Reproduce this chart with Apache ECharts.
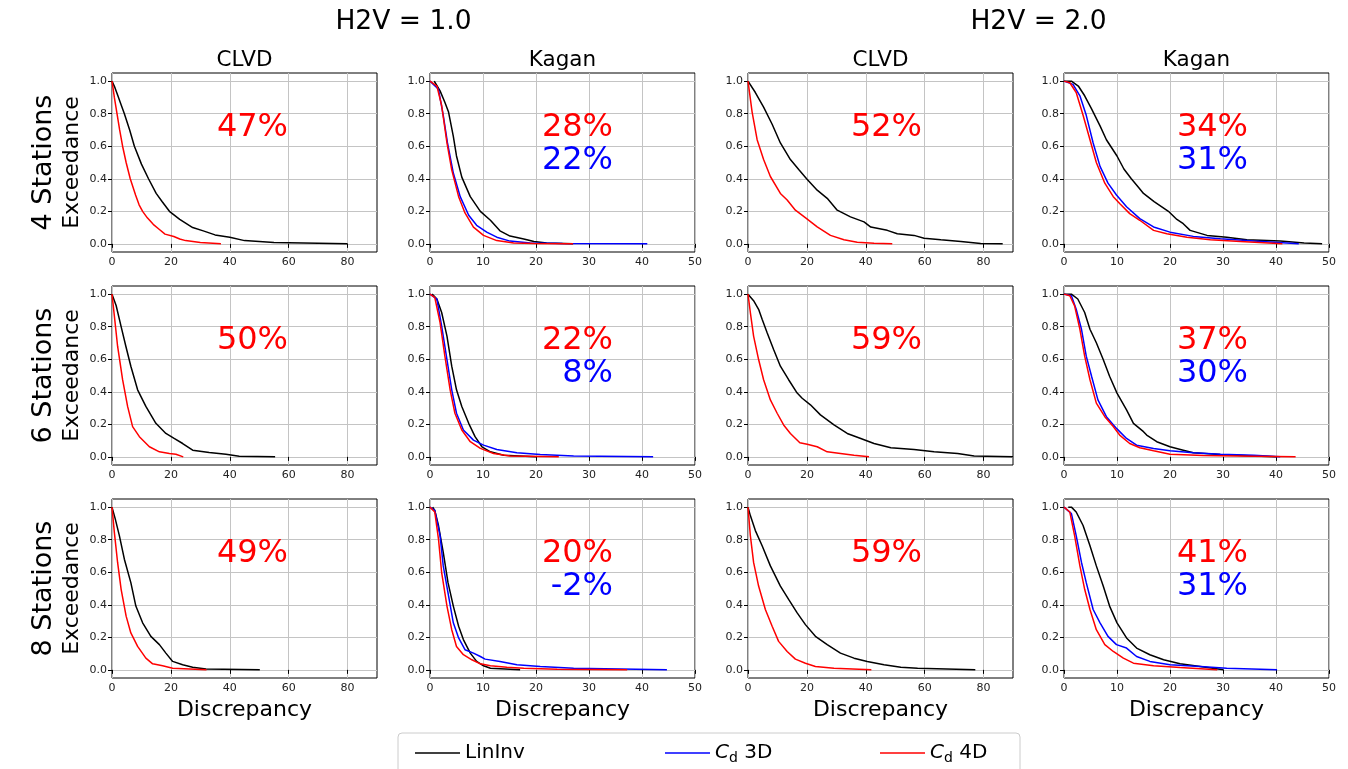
<!DOCTYPE html>
<html>
<head>
<meta charset="utf-8">
<title>Exceedance vs Discrepancy</title>
<script src="https://cdn.jsdelivr.net/npm/echarts@6/dist/echarts.min.js"></script>
<style>
  html, body { margin: 0; padding: 0; background: #fff; }
  #chart { width: 1348px; height: 769px; }
</style>
</head>
<body>
<div id="chart"></div>
<script>
const h2vTitles = ['H2V = 1.0', 'H2V = 2.0']
const colTitles = ['CLVD', 'Kagan', 'CLVD', 'Kagan']
const rowNames = ['4 Stations', '6 Stations', '8 Stations']
const clvdTicks = [0, 20, 40, 60, 80]
const kaganTicks = [0, 10, 20, 30, 40, 50]
const yTicks = [0, 0.2, 0.4, 0.6, 0.8, 1.0]

// percent annotations, panel order row by row
const redPct = ['47%', '28%', '52%', '34%', '50%', '22%', '59%', '37%', '49%', '20%', '59%', '41%']
const bluePct = [null, '22%', null, '31%', null, '8%', null, '30%', null, '-2%', null, '31%']

// exceedance curves [discrepancy, exceedance]
// 4 stations
const lin_4_h1_clvd = [[0,1],[1,0.96],[2,0.91],[3,0.86],[4.2,0.8],[6,0.7],[7.6,0.6],[10,0.49],[12.4,0.4],[15,0.31],[17,0.26],[19.5,0.2],[23,0.15],[27.4,0.1],[31,0.08],[35,0.055],[40,0.04],[45,0.02],[50,0.014],[55,0.008],[65,0.005],[80,0]]
const d4_4_h1_clvd = [[0,1],[0.8,0.9],[1.7,0.8],[2.6,0.7],[3.6,0.6],[4.8,0.5],[6.2,0.4],[8,0.3],[9.2,0.24],[10.4,0.2],[12,0.16],[14,0.12],[16,0.09],[18,0.06],[21,0.045],[23,0.03],[25,0.02],[30,0.008],[37,0]]

const lin_4_h1_kag = [[0.8,1],[1.9,0.94],[2.8,0.87],[3.5,0.81],[4.4,0.66],[5,0.54],[6,0.41],[7.6,0.29],[9.5,0.2],[11.4,0.145],[13.2,0.08],[15.1,0.048],[17.7,0.03],[19.6,0.015],[22,0.005],[27,0]]
const d3_4_h1_kag = [[0,1],[1.6,0.95],[2.5,0.79],[3.3,0.62],[4.4,0.435],[5.7,0.29],[7.3,0.176],[8.8,0.114],[10.7,0.072],[12.6,0.041],[15.1,0.017],[18.9,0.006],[25,0.002],[41,0]]
const d4_4_h1_kag = [[0,1],[1.3,0.97],[2.2,0.85],[3.2,0.62],[4.1,0.455],[5.4,0.29],[6.6,0.19],[8.2,0.103],[10.1,0.052],[12.6,0.02],[15.8,0.006],[19.6,0.002],[27,0]]

const lin_4_h2_clvd = [[0,1],[2.5,0.93],[5.3,0.84],[8.2,0.735],[11,0.62],[14.4,0.518],[17.3,0.455],[19.9,0.4],[23.5,0.33],[26.9,0.28],[30.3,0.207],[34.8,0.166],[39.4,0.135],[41.7,0.103],[47.3,0.083],[50.7,0.062],[56.4,0.052],[59.8,0.035],[65.5,0.025],[72.3,0.015],[79,0.002],[86.5,0]]
const d4_4_h2_clvd = [[0,1],[1.4,0.81],[3.1,0.64],[5.3,0.518],[7.6,0.414],[11,0.31],[13.3,0.27],[16.1,0.207],[19.9,0.155],[23.5,0.104],[28,0.052],[32.6,0.025],[37.1,0.01],[42.8,0.004],[49,0]]

const lin_4_h2_kag = [[0,1],[1.4,1],[2.7,0.97],[3.9,0.91],[5.2,0.83],[6.8,0.725],[8,0.64],[10,0.54],[11.3,0.46],[12.7,0.4],[14,0.35],[15,0.31],[17,0.26],[19.7,0.2],[21.3,0.15],[22.5,0.124],[23.8,0.083],[27,0.052],[30.7,0.041],[34.5,0.025],[40.8,0.017],[45.3,0.006],[48.7,0]]
const d3_4_h2_kag = [[0,1],[1.7,0.98],[3,0.91],[4.2,0.79],[5.5,0.62],[6.8,0.476],[8.3,0.373],[9.9,0.3],[11.8,0.228],[14.3,0.155],[16.9,0.104],[20,0.072],[24.4,0.046],[29.5,0.031],[35.8,0.017],[44.3,0]]
const d4_4_h2_kag = [[0,1],[1.1,0.99],[2.3,0.93],[3.6,0.79],[4.9,0.64],[6.1,0.5],[7.7,0.373],[9.3,0.29],[10.5,0.248],[12.4,0.186],[14.3,0.145],[16.9,0.083],[19.4,0.062],[23.2,0.041],[27.6,0.025],[33.3,0.015],[41.2,0]]

// 6 stations
const lin_6_h1_clvd = [[0,1],[1.4,0.93],[3.1,0.8],[4.7,0.68],[6.4,0.557],[8.7,0.412],[11.5,0.31],[14.9,0.206],[18.3,0.144],[21.1,0.113],[24,0.082],[27.4,0.041],[33,0.027],[38.7,0.016],[43.2,0.004],[55.4,0]]
const d4_6_h1_clvd = [[0,1],[0.8,0.866],[1.9,0.68],[3.6,0.474],[5.3,0.31],[7,0.186],[9.3,0.124],[12.7,0.062],[16.1,0.031],[19.5,0.021],[21.7,0.016],[24.2,0]]

const lin_6_h1_kag = [[0.4,1],[1.3,0.97],[2.2,0.887],[3.2,0.742],[4.1,0.557],[5,0.412],[6,0.31],[7.3,0.206],[8.5,0.124],[9.8,0.062],[11.4,0.031],[13.9,0.01],[20,0]]
const d3_6_h1_kag = [[0,1],[1.3,0.97],[2.2,0.804],[3.2,0.598],[4.1,0.412],[5,0.268],[6.3,0.165],[8.2,0.103],[10.1,0.072],[12.6,0.045],[16.4,0.025],[20.8,0.014],[27.1,0.006],[42.1,0]]
const d4_6_h1_kag = [[0,1],[0.9,0.98],[1.9,0.825],[2.8,0.62],[3.8,0.412],[4.7,0.268],[6,0.165],[7.6,0.093],[9.5,0.052],[12,0.021],[15.1,0.006],[24.3,0]]

const lin_6_h2_clvd = [[0,1],[1.9,0.96],[3.6,0.907],[4.8,0.845],[6.5,0.763],[8.7,0.66],[11,0.557],[13.8,0.474],[16.7,0.392],[18.4,0.36],[21.2,0.32],[24.6,0.258],[29.2,0.196],[33.7,0.144],[38.3,0.113],[42.8,0.082],[48.5,0.056],[56.4,0.045],[63.2,0.031],[71.2,0.021],[76.8,0.006],[90,0]]
const d4_6_h2_clvd = [[0,1],[0.8,0.887],[1.9,0.742],[3.6,0.598],[5.3,0.474],[7.6,0.35],[9.9,0.268],[12.1,0.196],[14.4,0.144],[17.6,0.087],[20.1,0.078],[23.5,0.062],[26.9,0.031],[31.4,0.021],[36,0.01],[41.1,0]]

const lin_6_h2_kag = [[0,1],[1.4,1],[2.6,0.97],[3.9,0.887],[4.9,0.784],[6.1,0.701],[7.4,0.598],[8.6,0.495],[10,0.392],[11.8,0.289],[13.1,0.206],[15,0.155],[15.6,0.134],[17.5,0.093],[20,0.062],[22.5,0.041],[24.4,0.025],[29.5,0.014],[35.8,0.006],[40,0]]
const d3_6_h2_kag = [[0,1],[1.4,0.99],[2.3,0.907],[3.3,0.784],[4.2,0.619],[5.2,0.495],[6.4,0.35],[8,0.247],[9.9,0.175],[11.8,0.113],[13.7,0.072],[16.9,0.052],[20,0.037],[24.4,0.025],[29.5,0.016],[35.8,0.01],[40.8,0]]
const d4_6_h2_kag = [[0,1],[1.1,0.99],[2,0.928],[3,0.784],[3.9,0.619],[4.9,0.474],[6.1,0.33],[7.7,0.247],[9.3,0.186],[10.5,0.134],[12.4,0.082],[14.3,0.056],[16.9,0.037],[20,0.016],[26.3,0.008],[35.8,0.004],[43.7,0]]

// 8 stations
const lin_8_h1_clvd = [[0,1],[1.1,0.928],[2.5,0.825],[4.2,0.68],[6.4,0.536],[8.1,0.392],[10.4,0.289],[13.2,0.206],[16.1,0.155],[18.3,0.103],[20.6,0.052],[24,0.031],[27.4,0.016],[31.9,0.006],[50.2,0]]
const d4_8_h1_clvd = [[0,1],[0.8,0.845],[1.9,0.66],[3.1,0.495],[4.8,0.33],[6.4,0.227],[8.7,0.144],[11.5,0.072],[13.8,0.037],[17.2,0.025],[20.6,0.01],[32.1,0]]

const lin_8_h1_kag = [[0.5,1],[0.9,0.98],[1.6,0.887],[2.5,0.722],[3.4,0.536],[4.4,0.392],[5.4,0.268],[6.3,0.186],[7.6,0.103],[8.8,0.052],[10.1,0.025],[11.4,0.01],[17,0]]
const d3_8_h1_kag = [[0,1],[0.9,0.98],[1.9,0.825],[2.5,0.639],[3.5,0.454],[4.4,0.289],[5.4,0.196],[6.6,0.124],[8.2,0.103],[9.5,0.082],[10.4,0.066],[13.2,0.052],[16.4,0.031],[20.8,0.021],[27.1,0.01],[44.7,0]]
const d4_8_h1_kag = [[0,1],[0.9,0.97],[1.6,0.804],[2.2,0.598],[3.2,0.392],[4.1,0.247],[5,0.144],[6.3,0.093],[7.9,0.062],[9.5,0.037],[11.4,0.025],[14.5,0.016],[17.7,0.01],[24,0.004],[37.2,0]]

const lin_8_h2_clvd = [[0,1],[0.8,0.948],[2.5,0.856],[4.8,0.763],[7.6,0.639],[11,0.515],[13.8,0.433],[16.7,0.35],[19.5,0.278],[22.9,0.206],[26.9,0.155],[31.4,0.103],[36,0.072],[40.5,0.052],[46.2,0.031],[51.9,0.016],[57.6,0.01],[77.2,0]]
const d4_8_h2_clvd = [[0,1],[0.8,0.825],[1.9,0.66],[3.6,0.515],[5.9,0.371],[8.2,0.268],[10.4,0.175],[13.3,0.113],[16.1,0.066],[19.5,0.041],[22.9,0.021],[29.2,0.01],[41.9,0]]

const lin_8_h2_kag = [[0.8,1],[1.4,1],[2.3,0.97],[3.6,0.887],[4.9,0.763],[6.1,0.639],[7.4,0.515],[8.6,0.392],[10,0.289],[11.8,0.196],[13.7,0.134],[16.2,0.093],[18.8,0.062],[21.9,0.037],[25.7,0.021],[30.1,0]]
const d3_8_h2_kag = [[0,1],[1.4,0.96],[2.3,0.825],[3.3,0.66],[4.2,0.536],[5.5,0.371],[6.8,0.289],[8.3,0.206],[9.9,0.155],[11.8,0.134],[13.7,0.082],[16.2,0.052],[20,0.031],[25.7,0.021],[30.7,0.01],[40.2,0]]
const d4_8_h2_kag = [[0,1],[1.1,0.97],[2,0.825],[3,0.639],[3.9,0.495],[4.9,0.371],[6.1,0.247],[7.7,0.155],[9.3,0.113],[11.2,0.072],[13.1,0.041],[16.9,0.025],[21.9,0.014],[28.9,0]]

// panels row by row: [LinInv, Cd 3D, Cd 4D]
const panels = [
  [lin_4_h1_clvd, null, d4_4_h1_clvd],
  [lin_4_h1_kag, d3_4_h1_kag, d4_4_h1_kag],
  [lin_4_h2_clvd, null, d4_4_h2_clvd],
  [lin_4_h2_kag, d3_4_h2_kag, d4_4_h2_kag],
  [lin_6_h1_clvd, null, d4_6_h1_clvd],
  [lin_6_h1_kag, d3_6_h1_kag, d4_6_h1_kag],
  [lin_6_h2_clvd, null, d4_6_h2_clvd],
  [lin_6_h2_kag, d3_6_h2_kag, d4_6_h2_kag],
  [lin_8_h1_clvd, null, d4_8_h1_clvd],
  [lin_8_h1_kag, d3_8_h1_kag, d4_8_h1_kag],
  [lin_8_h2_clvd, null, d4_8_h2_clvd],
  [lin_8_h2_kag, d3_8_h2_kag, d4_8_h2_kag]
]

const seriesNames = ['LinInv', 'Cd 3D', 'Cd 4D']
const seriesColors = ['#000000', '#0000ff', '#ff0000']

// layout
const FONT = 'DejaVu Sans'
const colLeft = [112, 430, 748, 1064]
const rowTop = [73, 286, 499]
const W = 265
const H = 179
const pctRight = [176, 183, 174, 184]

const grids = []
const xAxes = []
const yAxes = []
const series = []
const graphics = []

panels.forEach((curves, i) => {
  const r = Math.floor(i / 4)
  const c = i % 4
  const isKagan = c % 2 === 1

  grids.push({
    left: colLeft[c], top: rowTop[r], width: W, height: H,
    show: true, borderColor: '#000', borderWidth: 1, backgroundColor: '#fff'
  })

  const xt = isKagan ? kaganTicks : clvdTicks
  xAxes.push({
    type: 'value', gridIndex: i, min: 0, max: isKagan ? 50 : 90,
    axisLine: { show: false },
    axisTick: { show: true, length: 4, customValues: xt, lineStyle: { color: '#000' } },
    axisLabel: { customValues: xt, fontFamily: FONT, fontSize: 11, color: '#222', margin: 5 },
    splitLine: { show: true, lineStyle: { color: '#c4c4c4', width: 1 } }
  })
  yAxes.push({
    type: 'value', gridIndex: i, min: -0.05, max: 1.05,
    axisLine: { show: false },
    axisTick: { show: true, length: 4, customValues: yTicks, lineStyle: { color: '#000' } },
    axisLabel: {
      customValues: yTicks, fontFamily: FONT, fontSize: 11, color: '#222', margin: 5,
      formatter: v => v.toFixed(1)
    },
    splitLine: { show: true, lineStyle: { color: '#c4c4c4', width: 1 } }
  })

  curves.forEach((d, k) => {
    if (!d) return
    series.push({
      name: seriesNames[k], type: 'line', xAxisIndex: i, yAxisIndex: i,
      data: d, symbol: 'none', smooth: false, silent: true,
      lineStyle: { color: seriesColors[k], width: 1.5 },
      itemStyle: { color: seriesColors[k] }
    })
  })

  // percent labels
  const px = colLeft[c] + pctRight[c]
  const py = rowTop[r] + 55
  graphics.push({
    type: 'text', x: px, y: py, z: 10,
    style: { text: redPct[i], fill: '#ff0000', font: '32px "' + FONT + '"', textAlign: 'right', textVerticalAlign: 'middle' }
  })
  if (bluePct[i]) {
    graphics.push({
      type: 'text', x: px, y: py + 33, z: 10,
      style: { text: bluePct[i], fill: '#0000ff', font: '32px "' + FONT + '"', textAlign: 'right', textVerticalAlign: 'middle' }
    })
  }
})

// titles and labels
h2vTitles.forEach((t, j) => {
  const cx = (colLeft[j * 2] + colLeft[j * 2 + 1] + W) / 2
  graphics.push({ type: 'text', x: cx, y: 22, style: { text: t, fill: '#000', font: '26.5px "' + FONT + '"', textAlign: 'center', textVerticalAlign: 'middle' } })
})
colTitles.forEach((t, c) => {
  graphics.push({ type: 'text', x: colLeft[c] + W / 2, y: 60, style: { text: t, fill: '#000', font: '21.5px "' + FONT + '"', textAlign: 'center', textVerticalAlign: 'middle' } })
  graphics.push({ type: 'text', x: colLeft[c] + W / 2, y: 710, style: { text: 'Discrepancy', fill: '#000', font: '22px "' + FONT + '"', textAlign: 'center', textVerticalAlign: 'middle' } })
})
rowNames.forEach((t, r) => {
  const cy = rowTop[r] + H / 2
  graphics.push({ type: 'text', x: 44, y: cy, rotation: Math.PI / 2, style: { text: t, fill: '#000', font: '27px "' + FONT + '"', textAlign: 'center', textVerticalAlign: 'middle' } })
  graphics.push({ type: 'text', x: 72, y: cy, rotation: Math.PI / 2, style: { text: 'Exceedance', fill: '#000', font: '22px "' + FONT + '"', textAlign: 'center', textVerticalAlign: 'middle' } })
})

// legend frame
graphics.push({
  type: 'rect', shape: { x: 398, y: 733, width: 622, height: 50, r: 4 }, z: -1,
  style: { fill: '#fff', stroke: '#cccccc', lineWidth: 1 }
})

const legendRich = {
  it: { fontFamily: FONT, fontSize: 20, fontStyle: 'italic', color: '#000' },
  sub: { fontFamily: FONT, fontSize: 14, color: '#000', verticalAlign: 'bottom', padding: [10, 0, 0, 0] },
  n: { fontFamily: FONT, fontSize: 20, color: '#000' }
}
const legendFmt = name => {
  if (name === 'LinInv') return '{n|LinInv}'
  return '{it|C}{sub|d}{n| ' + name.slice(3) + '}'
}
const legendLeft = [410, 660, 875]
const legends = seriesNames.map((name, k) => ({
  data: [name], left: legendLeft[k], top: 738, icon: 'rect', itemWidth: 45, itemHeight: 1.6, itemGap: 12,
  formatter: legendFmt, selectedMode: false,
  textStyle: { fontFamily: FONT, fontSize: 20, color: '#000', rich: legendRich }
}))

const chart = echarts.init(document.getElementById('chart'))
chart.setOption({
  backgroundColor: '#fff',
  animation: false,
  grid: grids,
  xAxis: xAxes,
  yAxis: yAxes,
  series: series,
  legend: legends,
  graphic: graphics
})
</script>
</body>
</html>
